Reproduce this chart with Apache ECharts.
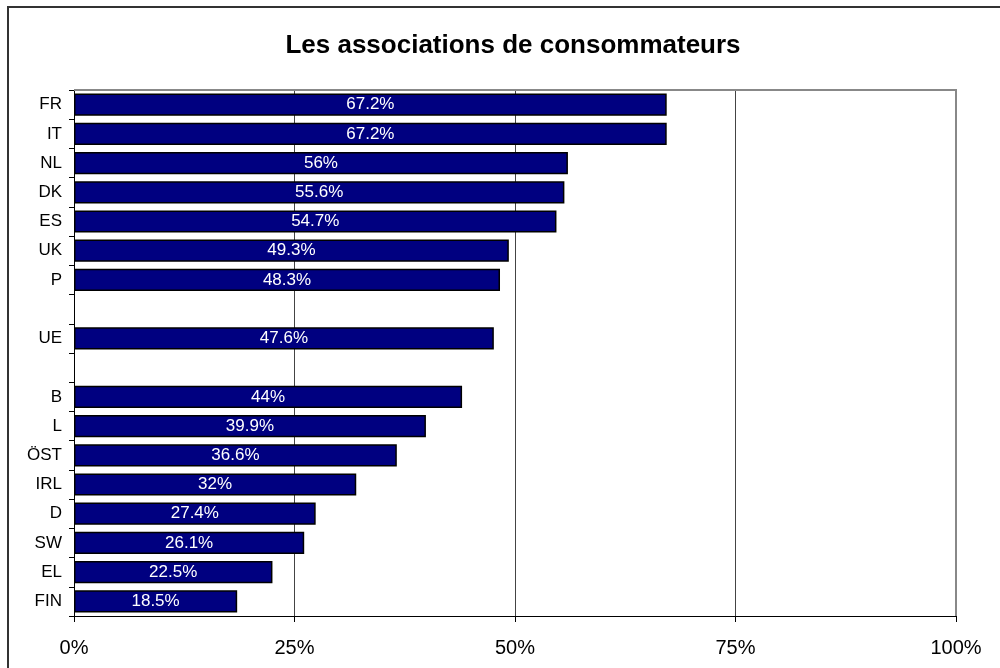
<!DOCTYPE html>
<html>
<head>
<meta charset="utf-8">
<script src="https://cdn.jsdelivr.net/npm/echarts@6/dist/echarts.min.js"></script>
<style>
  html, body { margin: 0; padding: 0; background: #fff; }
  #chart { width: 1000px; height: 668px; }
</style>
</head>
<body>
<div id="chart"></div>
<script>
// empty strings are the spacer rows around UE
var categories = ["FR", "IT", "NL", "DK", "ES", "UK", "P", "", "UE", "", "B", "L", "ÖST", "IRL", "D", "SW", "EL", "FIN"];
var values = [67.2, 67.2, 56, 55.6, 54.7, 49.3, 48.3, null, 47.6, null, 44, 39.9, 36.6, 32, 27.4, 26.1, 22.5, 18.5];
var xTicks = [0, 25, 50, 75, 100];

var myChart = echarts.init(document.getElementById("chart"));
var option = {
  animation: false,
  title: {
    text: "Les associations de consommateurs",
    left: 508,
    textAlign: "center",
    top: 28,
    textStyle: { fontFamily: "Liberation Sans, Arial", fontSize: 26, fontWeight: "bold", color: "#000" }
  },
  graphic: [
    {
      type: "rect",
      shape: { x: 8, y: 7, width: 1020, height: 700 },
      style: { fill: "none", stroke: "#333", lineWidth: 2 },
      z: -1
    },
    {
      type: "polyline",
      shape: { points: [[74, 90], [956, 90], [956, 616]] },
      style: { fill: "none", stroke: "#888", lineWidth: 2 },
      z: 1
    }
  ],
  grid: { left: 74, top: 90, width: 882, height: 526, containLabel: false },
  xAxis: {
    type: "value",
    min: 0,
    max: 100,
    interval: 25,
    axisLine: { show: true, lineStyle: { color: "#000", width: 1 } },
    axisTick: { show: true, length: 6, lineStyle: { color: "#000" } },
    splitLine: { show: true, lineStyle: { color: "#444", width: 1 } },
    axisLabel: {
      margin: 22,
      fontFamily: "Liberation Sans, Arial",
      fontSize: 20,
      color: "#000",
      formatter: function (v) { return xTicks.indexOf(v) >= 0 ? v + "%" : ""; }
    }
  },
  yAxis: {
    type: "category",
    inverse: true,
    data: categories,
    axisLine: { show: true, lineStyle: { color: "#000", width: 1 } },
    axisTick: { show: true, length: 5, lineStyle: { color: "#000" } },
    axisLabel: { margin: 12, fontFamily: "Liberation Sans, Arial", fontSize: 17, color: "#000" }
  },
  series: [
    {
      type: "bar",
      data: values,
      barWidth: "76%",
      itemStyle: { color: "#000080", borderColor: "#000", borderWidth: 1.5 },
      label: {
        show: true,
        position: "inside",
        color: "#fff",
        fontFamily: "Liberation Sans, Arial",
        fontSize: 17,
        formatter: function (p) { return p.value + "%"; }
      }
    }
  ]
};
myChart.setOption(option);
</script>
</body>
</html>
